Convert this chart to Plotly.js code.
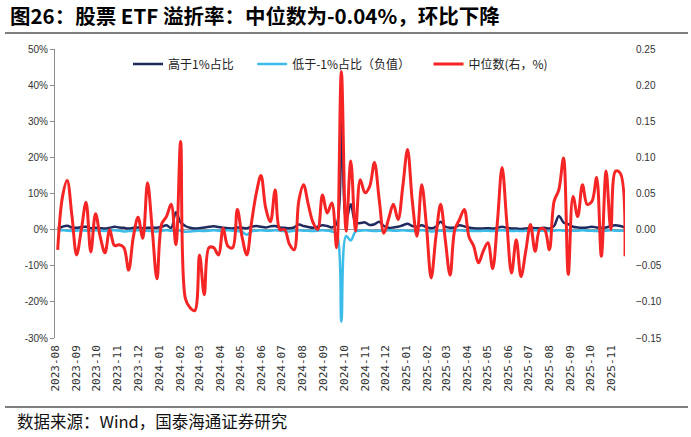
<!DOCTYPE html>
<html>
<head>
<meta charset="utf-8">
<script src="https://cdn.plot.ly/plotly-3.0.1.min.js"></script>
<style>
  html, body { margin: 0; padding: 0; background: #fff; }
  #chart { width: 691px; height: 437px; }
</style>
</head>
<body>
<div id="chart"></div>
<script>
// weekly observations, first one on 2023-08-04
var startDate = "2023-08-04";

// 高于1%占比 (%, left axis)
var above1 = [
  0.3, 0.8, 1.1, 0.6, 0.5, 0.7, 0.8, 0.4, 0.5, 0.4,
  0.3, 0.5, 0.8, 0.6, 0.5, 0.3, 0.5, 0.6, 0.4, 0.5,
  0.6, 0.5, 0.8, 1.2, 0.5, 4.8, 2.0, 1.0, 0.5, 0.3,
  0.4, 0.6, 0.8, 0.9, 0.7, 0.5, 0.4, 0.3, 0.6, 0.5,
  0.4, 0.8, 1.0, 0.8, 0.6, 0.9, 1.0, 0.6, 0.5, 0.4,
  0.6, 1.4, 1.0, 0.7, 0.5, 0.8, 1.2, 1.0, 0.6, 1.5,
  37.0, 2.5, 7.0, 2.0, 1.8, 2.0, 1.3, 1.5, 2.2, 1.0,
  0.5, 0.6, 0.8, 1.2, 1.6, 1.0, 0.8, 1.2, 0.7, 0.4,
  0.8, 2.2, 0.8, 0.5, 0.6, 1.2, 0.9, 0.6, 0.4, 0.3,
  0.3, 0.4, 0.3, 0.5, 0.8, 0.5, 0.3, 0.3, 0.2, 0.3,
  0.5, 0.4, 0.4, 0.5, 0.3, 1.0, 3.8, 2.0, 1.5, 0.8,
  0.6, 0.5, 0.6, 0.8, 0.6, 0.5, 0.6, 1.0, 1.2, 1.0,
  0.6
];

// 低于-1%占比（负值） (%, left axis)
var below1 = [
  -0.3, -0.2, -0.3, -0.4, -0.3, -0.2, -0.3, -0.3, -0.2, -0.3,
  -0.4, -0.3, -0.2, -0.3, -0.5, -0.4, -0.3, -0.2, -0.3, -0.3,
  -0.4, -0.5, -0.3, -0.2, -0.3, -0.2, -0.3, -0.6, -0.5, -0.4,
  -0.3, -0.4, -0.3, -0.2, -0.3, -0.3, -0.2, -0.3, -0.4, -0.6,
  -1.4, -0.5, -0.3, -0.2, -0.3, -0.3, -0.2, -0.3, -0.4, -0.5,
  -0.3, -0.2, -0.3, -0.3, -0.4, -0.3, -0.2, -0.3, -0.5, -1.0,
  -25.5, -1.8, -3.0, -0.5, -0.3, -0.2, -0.3, -0.4, -0.3, -0.3,
  -0.2, -0.3, -0.3, -0.2, -0.3, -0.4, -0.3, -0.2, -0.3, -0.5,
  -0.4, -0.3, -0.3, -0.4, -0.3, -0.2, -0.3, -0.3, -0.4, -0.4,
  -0.3, -0.3, -0.4, -0.3, -0.2, -0.3, -0.4, -0.3, -0.4, -0.3,
  -0.3, -0.2, -0.3, -0.3, -0.4, -0.3, -0.2, -0.3, -0.4, -0.3,
  -0.3, -0.2, -0.3, -0.3, -0.4, -0.3, -0.3, -0.2, -0.3, -0.3,
  -0.3
];

// 中位数 (%, right axis)
var median = [
  -0.028, 0.045, 0.068, 0.020, -0.035, 0.000, 0.038, -0.031, 0.022, -0.010,
  -0.032, 0.000, -0.022, -0.021, -0.025, -0.056, -0.010, 0.017, -0.012, 0.065,
  0.000, -0.068, 0.008, 0.018, 0.035, -0.021, 0.122, -0.095, -0.108, -0.112,
  -0.035, -0.090, -0.025, -0.025, -0.035, 0.002, -0.023, -0.025, 0.028, -0.010,
  -0.035, 0.010, 0.050, 0.075, 0.030, 0.011, 0.055, 0.000, 0.000, -0.020,
  -0.028, 0.040, 0.062, 0.035, 0.010, 0.000, 0.048, 0.023, 0.037, -0.025,
  0.219, -0.002, 0.095, -0.002, 0.069, 0.051, 0.060, 0.093, 0.042, -0.005,
  0.015, 0.035, 0.014, 0.060, 0.111, 0.040, -0.009, 0.062, 0.005, -0.067,
  -0.010, 0.035, -0.015, -0.063, 0.000, 0.014, 0.028, -0.010, -0.023, -0.046,
  -0.030, -0.018, -0.054, 0.010, 0.086, 0.010, -0.060, -0.014, -0.065, -0.030,
  0.007, -0.030, 0.001, 0.000, -0.028, 0.039, 0.055, 0.099, -0.062, 0.046,
  0.018, 0.062, 0.035, 0.039, 0.072, -0.037, 0.081, 0.000, 0.081, 0.078,
  -0.037
];

var leftTicks = [50, 40, 30, 20, 10, 0, -10, -20, -30];
var leftTickText = ["50%", "40%", "30%", "20%", "10%", "0%", "-10%", "-20%", "-30%"];
var rightTicks = [0.25, 0.20, 0.15, 0.10, 0.05, 0.00, -0.05, -0.10, -0.15];

function weeklyDates(start, n) {
  var out = [];
  var d0 = new Date(start + "T00:00:00Z");
  for (var i = 0; i < n; i++) {
    var d = new Date(d0.getTime() + i * 7 * 86400000);
    out.push(d.toISOString().slice(0, 10));
  }
  return out;
}

var dates = weeklyDates(startDate, median.length);

var tickFont = { family: "Liberation Sans, sans-serif", size: 10, color: "#333" };
var cjk = "Noto Sans CJK SC, sans-serif";
var pad = "\u00a0\u00a0\u00a0\u00a0\u00a0";

var traces = [
  {
    x: dates, y: above1, name: "高于1%占比" + pad,
    type: "scatter", mode: "lines",
    line: { color: "#1f2a5e", width: 2.5, shape: "spline", smoothing: 1 }
  },
  {
    x: dates, y: below1, name: "低于-1%占比（负值）" + pad,
    type: "scatter", mode: "lines",
    line: { color: "#3cbde9", width: 2.5, shape: "spline", smoothing: 1 }
  },
  {
    x: dates, y: median, name: "中位数(右，%)", yaxis: "y2",
    type: "scatter", mode: "lines",
    line: { color: "#f52525", width: 3, shape: "spline", smoothing: 1 }
  }
];

// pixel helpers for things placed outside the plot area
var L = 55, R = 625, T = 49, B = 338;
function px(x) { return (x - L) / (R - L); }
function py(y) { return (B - y) / (B - T); }

var layout = {
  width: 691, height: 437,
  margin: { l: L, r: 691 - R, t: T, b: 437 - B },
  paper_bgcolor: "#fff", plot_bgcolor: "#fff",
  showlegend: true,
  legend: {
    orientation: "h", x: px(128), y: py(64), xanchor: "left", yanchor: "middle",
    font: { family: cjk, size: 12, color: "#222" },
    bgcolor: "rgba(0,0,0,0)", itemwidth: 30
  },
  xaxis: {
    type: "date",
    range: ["2023-07-31", "2025-11-21"],
    tick0: "2023-08-01", dtick: "M1", tickformat: "%Y-%m",
    tickangle: -90, tickfont: { family: "DejaVu Sans Mono, monospace", size: 11, color: "#333" },
    showgrid: false, showline: false, zeroline: false, ticks: "",
    ticklabelstandoff: 4
  },
  yaxis: {
    range: [-30, 50], tickvals: leftTicks, ticktext: leftTickText,
    tickfont: tickFont, showgrid: false,
    showline: true, linecolor: "#8c8c8c", linewidth: 1,
    ticks: "outside", ticklen: 4, tickcolor: "#8c8c8c",
    zeroline: true, zerolinecolor: "#9a9a9a", zerolinewidth: 1
  },
  yaxis2: {
    overlaying: "y", side: "right",
    range: [-0.15, 0.25], tickvals: rightTicks, tickformat: ".2f",
    tickfont: tickFont, showgrid: false, showline: false, zeroline: false,
    ticks: "", ticklabelstandoff: 10
  },
  annotations: [
    {
      xref: "paper", yref: "paper", x: px(8), y: py(15), xanchor: "left", yanchor: "middle",
      text: "<b>图26：股票 ETF 溢折率：中位数为-0.04%，环比下降</b>", showarrow: false,
      font: { family: cjk, size: 20.5, color: "#000" }
    },
    {
      xref: "paper", yref: "paper", x: px(15), y: py(421), xanchor: "left", yanchor: "middle",
      text: "数据来源：Wind，国泰海通证券研究", showarrow: false,
      font: { family: cjk, size: 16.5, color: "#111" }
    }
  ],
  shapes: [
    { type: "line", xref: "paper", yref: "paper", x0: px(5), x1: px(688), y0: py(33), y1: py(33),
      line: { color: "#000", width: 1.2 } },
    { type: "line", xref: "paper", yref: "paper", x0: px(5), x1: px(688), y0: py(407), y1: py(407),
      line: { color: "#000", width: 1.2 } }
  ]
};

Plotly.newPlot("chart", traces, layout, { displayModeBar: false, staticPlot: true });
</script>
</body>
</html>
